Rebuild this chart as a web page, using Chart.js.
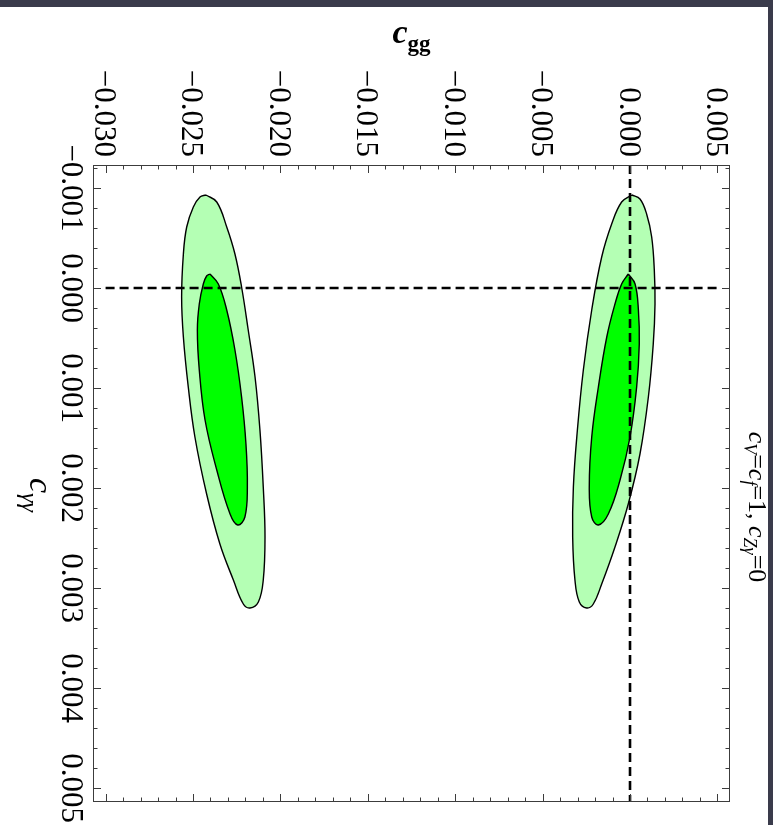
<!DOCTYPE html>
<html>
<head>
<meta charset="utf-8">
<title>c_gg vs c_γγ</title>
<script src="https://cdn.jsdelivr.net/npm/chart.js@4.4.0/dist/chart.umd.min.js"></script>
<style>
  html, body { margin: 0; padding: 0; background: #3a3b4b; }
  canvas { display: block; }
</style>
</head>
<body>
<canvas id="contourChart" width="773" height="825"></canvas>
<script>
// Axis tick values and plotted ranges
const cggTicks = [-0.030, -0.025, -0.020, -0.015, -0.010, -0.005, 0.000, 0.005];
const cyyTicks = [-0.001, 0.000, 0.001, 0.002, 0.003, 0.004, 0.005];
const cggRange = [-0.03072, 0.00572];
const cyyRange = [-0.00123, 0.00514];

// Reference lines: c_gg = 0 and c_yy = 0
const cyyZeroLine = [[-0.030, 0], [0.005, 0]];
const cggZeroLine = [[0, -0.00123], [0, 0.00514]];

// Contours, points as [c_gg, c_yy]
const leftOuter = [
  [-0.02426, -0.00093], [-0.02364, -0.00086], [-0.02307, -0.00061], [-0.02260, -0.00034],
  [-0.02222, -0.00001], [-0.02184, 0.00042], [-0.02145, 0.00089], [-0.02117, 0.00142],
  [-0.02098, 0.00199], [-0.02088, 0.00249], [-0.02098, 0.00292], [-0.02126, 0.00314],
  [-0.02174, 0.00320], [-0.02212, 0.00316], [-0.02269, 0.00292], [-0.02346, 0.00256],
  [-0.02422, 0.00206], [-0.02489, 0.00149], [-0.02527, 0.00099], [-0.02555, 0.00049],
  [-0.02565, 0.00009], [-0.02555, -0.00034], [-0.02536, -0.00061], [-0.02498, -0.00081],
  [-0.02460, -0.00091], [-0.02426, -0.00093]
];
const leftInner = [
  [-0.02403, -0.00014], [-0.02355, -0.00004], [-0.02307, 0.00022], [-0.02260, 0.00062],
  [-0.02222, 0.00109], [-0.02197, 0.00156], [-0.02189, 0.00199], [-0.02203, 0.00229],
  [-0.02244, 0.00237], [-0.02288, 0.00226], [-0.02364, 0.00182], [-0.02431, 0.00132],
  [-0.02464, 0.00082], [-0.02475, 0.00042], [-0.02464, 0.00016], [-0.02441, -0.00004],
  [-0.02422, -0.00012], [-0.02403, -0.00014]
];
const rightOuter = [
  [0.00010, -0.00093], [0.00057, -0.00089], [0.00095, -0.00074], [0.00124, -0.00051],
  [0.00139, -0.00018], [0.00143, 0.00016], [0.00133, 0.00056], [0.00105, 0.00109],
  [0.00057, 0.00166], [-0.00010, 0.00216], [-0.00086, 0.00259], [-0.00162, 0.00296],
  [-0.00210, 0.00316], [-0.00248, 0.00320], [-0.00290, 0.00314], [-0.00315, 0.00292],
  [-0.00328, 0.00249], [-0.00324, 0.00199], [-0.00301, 0.00142], [-0.00267, 0.00082],
  [-0.00219, 0.00022], [-0.00162, -0.00031], [-0.00105, -0.00064], [-0.00048, -0.00086],
  [0.00010, -0.00093]
];
const rightInner = [
  [-0.00010, -0.00014], [0.00029, -0.00004], [0.00048, 0.00022], [0.00053, 0.00056],
  [0.00038, 0.00099], [0.00000, 0.00149], [-0.00057, 0.00192], [-0.00124, 0.00226],
  [-0.00181, 0.00237], [-0.00219, 0.00229], [-0.00233, 0.00199], [-0.00219, 0.00149],
  [-0.00181, 0.00099], [-0.00133, 0.00049], [-0.00086, 0.00016], [-0.00048, -0.00004],
  [-0.00010, -0.00014]
];

const colors = {
  outer: "#b4ffb4",
  inner: "#00ff00",
  edge: "#000000",
  frame: "#3c3c3c",
  backdrop: "#3a3b4b",
};

const serif = "'Liberation Serif', 'Times New Roman', Tinos, 'DejaVu Serif', 'Noto Serif', serif";

function toPoints(pairs) {
  return pairs.map((p) => ({ x: p[0], y: p[1] }));
}

function contour(pairs, fillColor, order) {
  return {
    data: toPoints(pairs),
    showLine: true,
    fill: "shape",
    backgroundColor: fillColor,
    borderColor: colors.edge,
    borderWidth: 1.4,
    tension: 0.4,
    pointRadius: 0,
    order: order,
  };
}

function dashed(pairs) {
  return {
    data: toPoints(pairs),
    showLine: true,
    fill: false,
    borderColor: "#000",
    borderWidth: 2.6,
    borderDash: [9, 5],
    pointRadius: 0,
    order: 0,
  };
}

function tickText(v) {
  const s = Math.abs(v).toFixed(3);
  return v < -1e-9 ? "\u2212" + s : s;
}

// Draws a run of text pieces (different fonts / offsets) along a rotated baseline
function drawRuns(ctx, x, y, angle, runs, align) {
  ctx.save();
  ctx.translate(x, y);
  ctx.rotate(angle);
  ctx.textBaseline = "alphabetic";
  ctx.textAlign = "left";
  let total = 0;
  runs.forEach((r) => {
    ctx.font = r.font;
    total += ctx.measureText(r.t).width;
  });
  let cx = align === "center" ? -total / 2 : align === "right" ? -total : 0;
  runs.forEach((r) => {
    ctx.font = r.font;
    ctx.fillText(r.t, cx, r.dy || 0);
    cx += ctx.measureText(r.t).width;
  });
  ctx.restore();
}

const framePlugin = {
  id: "frameAxes",
  beforeDraw(chart) {
    const ctx = chart.ctx;
    ctx.save();
    ctx.fillStyle = "#fff";
    ctx.fillRect(0, 0, chart.width, chart.height);
    ctx.fillStyle = colors.backdrop;
    ctx.fillRect(0, 0, chart.width, 7);
    ctx.fillRect(768, 0, chart.width - 768, chart.height);
    ctx.restore();
  },
  afterDraw(chart) {
    const ctx = chart.ctx;
    const area = chart.chartArea;
    const xs = chart.scales.x;
    const ys = chart.scales.y;

    ctx.save();
    ctx.strokeStyle = colors.frame;
    ctx.lineWidth = 1;
    ctx.strokeRect(area.left + 0.5, area.top + 0.5, area.right - area.left - 1, area.bottom - area.top - 1);

    // inward ticks on all four sides
    ctx.beginPath();
    for (let i = Math.ceil(cggRange[0] / 0.001); i <= Math.floor(cggRange[1] / 0.001); i++) {
      const px = Math.round(xs.getPixelForValue(i * 0.001)) + 0.5;
      const len = i % 5 === 0 ? 8 : 4.5;
      ctx.moveTo(px, area.top);
      ctx.lineTo(px, area.top + len);
      ctx.moveTo(px, area.bottom);
      ctx.lineTo(px, area.bottom - len);
    }
    for (let i = Math.ceil(cyyRange[0] / 0.0002); i <= Math.floor(cyyRange[1] / 0.0002); i++) {
      const py = Math.round(ys.getPixelForValue(i * 0.0002)) + 0.5;
      const len = i % 5 === 0 ? 8 : 4.5;
      ctx.moveTo(area.left, py);
      ctx.lineTo(area.left + len, py);
      ctx.moveTo(area.right, py);
      ctx.lineTo(area.right - len, py);
    }
    ctx.stroke();

    // tick labels, turned a quarter clockwise
    ctx.fillStyle = "#000";
    const tickFont = "31px " + serif;
    cggTicks.forEach((v) => {
      const px = xs.getPixelForValue(v);
      drawRuns(ctx, px - 10.5, area.top - 8, Math.PI / 2, [{ t: tickText(v), font: tickFont }], "right");
    });
    cyyTicks.forEach((v) => {
      const py = ys.getPixelForValue(v);
      drawRuns(ctx, 62, py, Math.PI / 2, [{ t: tickText(v), font: tickFont }], "center");
    });

    // axis titles
    drawRuns(ctx, (area.left + area.right) / 2, 43, 0, [
      { t: "c", font: "italic bold 34px " + serif },
      { t: "gg", font: "bold 23px " + serif, dy: 8 },
    ], "center");
    drawRuns(ctx, 30, 495, Math.PI / 2, [
      { t: "c", font: "italic 34px " + serif },
      { t: "\u03b3\u03b3", font: "italic 24px " + serif, dy: 8 },
    ], "center");

    // condition note along the right edge
    const main = "26px " + serif;
    const it = "italic 26px " + serif;
    const sub = "italic 18px " + serif;
    drawRuns(ctx, 749, 507, Math.PI / 2, [
      { t: "c", font: it }, { t: "V", font: sub, dy: 5 },
      { t: "=", font: main },
      { t: "c", font: it }, { t: "f", font: sub, dy: 5 },
      { t: "=1, ", font: main },
      { t: "c", font: it }, { t: "Z\u03b3", font: sub, dy: 5 },
      { t: "=0", font: main },
    ], "center");
    ctx.restore();
  },
};

new Chart(document.getElementById("contourChart"), {
  type: "scatter",
  data: {
    datasets: [
      dashed(cyyZeroLine),
      dashed(cggZeroLine),
      contour(leftInner, colors.inner, 1),
      contour(rightInner, colors.inner, 1),
      contour(leftOuter, colors.outer, 2),
      contour(rightOuter, colors.outer, 2),
    ],
  },
  options: {
    responsive: false,
    animation: false,
    devicePixelRatio: 1,
    layout: { padding: { left: 93, top: 165, right: 43, bottom: 23 } },
    scales: {
      x: { type: "linear", min: cggRange[0], max: cggRange[1], display: false },
      y: { type: "linear", min: cyyRange[0], max: cyyRange[1], reverse: true, display: false },
    },
    plugins: {
      legend: { display: false },
      tooltip: { enabled: false },
    },
  },
  plugins: [framePlugin],
});
</script>
</body>
</html>
